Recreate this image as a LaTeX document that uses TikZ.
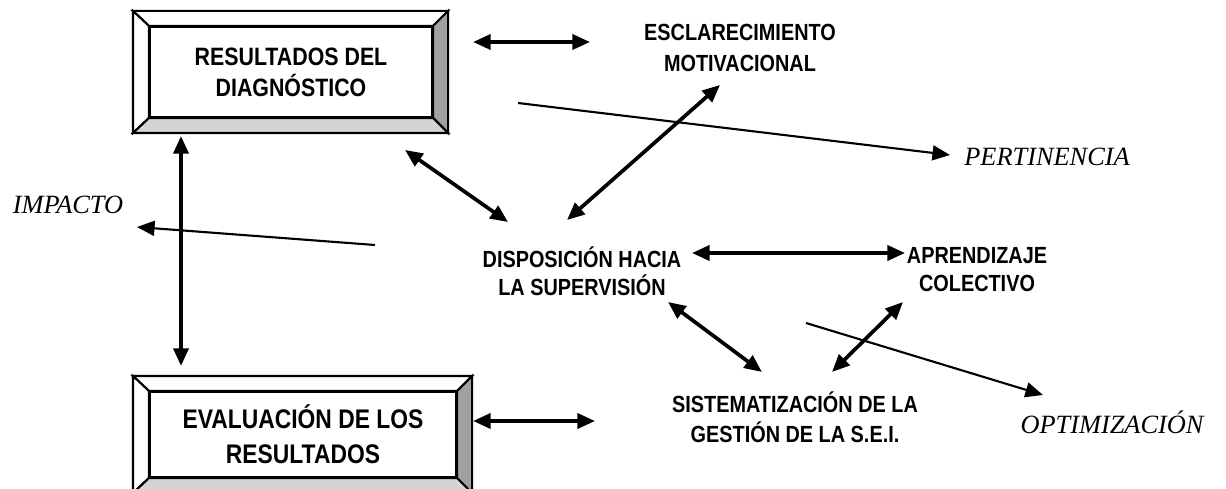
\documentclass[tikz,border=0pt]{standalone}
\usepackage{fontspec}
\newfontfamily\narrowsans[FakeStretch=0.85]{Liberation Sans}
\newfontfamily\italserif{Liberation Serif}
\usetikzlibrary{arrows.meta,calc}
\definecolor{bevellight}{HTML}{D4D4D4}
\definecolor{beveldark}{HTML}{A0A0A0}
\tikzset{
  boxtext/.style={font=\narrowsans\bfseries\fontsize{14.3}{17.6}\selectfont,align=center},
  plaintext/.style={font=\narrowsans\bfseries\fontsize{13.3}{16}\selectfont,align=center},
  itlabel/.style={font=\italserif\itshape\fontsize{15}{18}\selectfont},
  bevelbox/.style={draw,line width=1.2pt,inner sep=0pt},
  dbl/.style={line width=2.1pt,{Triangle[length=10pt,width=8.5pt]}-{Triangle[length=10pt,width=8.5pt]}},
  onearrow/.style={line width=1.2pt,-{Triangle[length=10pt,width=8.5pt]}}
}
% bevelled frame round a node
\newcommand{\bevelframe}[1]{
  \filldraw[fill=white,line width=1.2pt] ($(#1.north west)+(-16,-15)$) -- ($(#1.north east)+(15,-15)$)
    -- (#1.north east) -- (#1.north west) -- cycle;
  \filldraw[fill=white,line width=1.2pt] ($(#1.north west)+(-16,-15)$) -- (#1.north west)
    -- (#1.south west) -- ($(#1.south west)+(-16,15)$) -- cycle;
  \filldraw[fill=beveldark,line width=1.2pt] ($(#1.north east)+(15,-15)$) -- ($(#1.south east)+(15,15)$)
    -- (#1.south east) -- (#1.north east) -- cycle;
  \filldraw[fill=bevellight,line width=1.2pt] ($(#1.south west)+(-16,15)$) -- ($(#1.south east)+(15,15)$)
    -- (#1.south east) -- (#1.south west) -- cycle;
}
\begin{document}
\begin{tikzpicture}[x=0.02cm,y=-0.02cm]
  \useasboundingbox (0,0) rectangle (1226,489);
  % boxes
  \node[bevelbox,minimum width=282*0.02cm,minimum height=90*0.02cm] (res) at (291,72) {};
  \bevelframe{res}
  \node[boxtext] at (res) {RESULTADOS DEL\\DIAGNÓSTICO};
  \node[bevelbox,minimum width=306*0.02cm,minimum height=85*0.02cm] (eva) at (303,434.5) {};
  \bevelframe{eva}
  \node[boxtext,font=\narrowsans\bfseries\fontsize{15.3}{20}\selectfont] at (eva) {EVALUACIÓN DE LOS\\RESULTADOS};
  % plain labels
  \node[plaintext,font=\narrowsans\bfseries\fontsize{13.3}{17.6}\selectfont] (esc) at (740,48) {ESCLARECIMIENTO\\MOTIVACIONAL};
  \node[plaintext] (dis) at (582,271) {DISPOSICIÓN HACIA\\LA SUPERVISIÓN};
  \node[plaintext] (apr) at (977,270) {APRENDIZAJE\\COLECTIVO};
  \node[plaintext,font=\narrowsans\bfseries\fontsize{13.3}{17}\selectfont] (sis) at (795,417) {SISTEMATIZACIÓN DE LA\\GESTIÓN DE LA S.E.I.};
  \node[itlabel] (per) at (1047,157) {PERTINENCIA};
  \node[itlabel] (imp) at (68,205) {IMPACTO};
  \node[itlabel] (opt) at (1112,422) {OPTIMIZACIÓN};
  % connectors
  \draw[dbl] ($(res.east)+(40,-30)$) -- ($(esc)+(-150,-6)$);
  \draw[dbl] ($(esc)+(-20,37)$) -- ($(dis)+(-15,-51)$);
  \draw[dbl] ($(res)+(114,78)$) -- ($(dis)+(-74,-49)$);
  \draw[dbl] ($(res.south)+(-110,18)$) -- ($(eva.north)+(-122,-25)$);
  \draw[dbl] ($(dis)+(110,-18)$) -- ($(apr)+(-72,-17)$);
  \draw[dbl] ($(dis)+(86,31)$) -- ($(sis)+(-33,-45)$);
  \draw[dbl] ($(apr)+(-74,32)$) -- ($(sis)+(37,-45)$);
  \draw[dbl] ($(eva.east)+(16,-13.5)$) -- ($(sis)+(-200,4)$);
  \draw[onearrow] ($(dis)+(-207,-26)$) -- ($(imp)+(69,22)$);
  \draw[onearrow] ($(res)+(227,31)$) -- ($(per)+(-97,-2)$);
  \draw[onearrow] ($(sis)+(11,-94)$) -- ($(opt)+(-69,-27)$);
\end{tikzpicture}
\end{document}
